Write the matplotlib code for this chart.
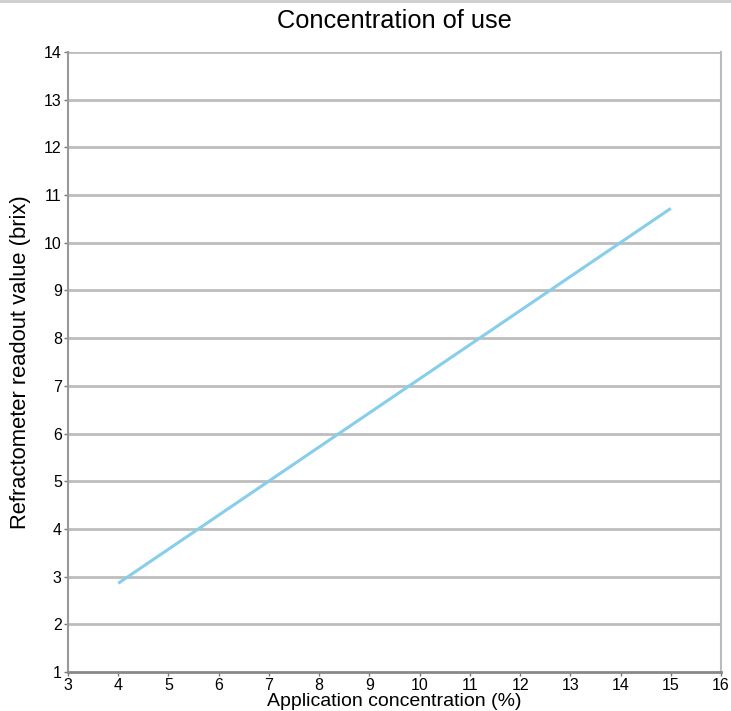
import matplotlib
matplotlib.use("Agg")
import matplotlib.pyplot as plt
from matplotlib.lines import Line2D

x_conc = [4, 15]
y_brix = [2.86, 10.72]
x_ticks = list(range(3, 17))
y_ticks = list(range(1, 15))

plt.rcParams['font.family'] = ['Liberation Sans', 'DejaVu Sans']

fig = plt.figure(figsize=(7.31, 7.11), dpi=100)
ax = fig.add_axes([68/731, 1-672/711, (721-68)/731, (672-52)/711])

for v in y_ticks[1:]:
    ax.axhline(v, color='#bdbdbd', lw=2.0, zorder=1)

ax.plot(x_conc, y_brix, color='#87ceeb', lw=2.2, zorder=3, solid_capstyle='butt')

ax.set_xlim(3, 16)
ax.set_ylim(1, 14)
ax.set_xticks(x_ticks)
ax.set_yticks(y_ticks)
ax.tick_params(axis='both', labelsize=11.5, colors='#777777', labelcolor='black', length=3, width=1, pad=1.5)
ax.tick_params(axis='x', pad=1)

ax.spines['top'].set_visible(False)
ax.spines['left'].set_color('#999999')
ax.spines['left'].set_linewidth(1.5)
ax.spines['right'].set_color('#bbbbbb')
ax.spines['right'].set_linewidth(1.5)
ax.spines['bottom'].set_color('#888888')
ax.spines['bottom'].set_linewidth(2)

ax.set_title('Concentration of use', fontsize=18.3, pad=17)
ax.set_xlabel('Application concentration (%)', fontsize=14, labelpad=0)
ax.set_ylabel('Refractometer readout value (brix)', fontsize=15.8, labelpad=9)

fig.add_artist(Line2D([0, 1], [1-1/711, 1-1/711], transform=fig.transFigure, color='#cccccc', lw=2))

fig.savefig('out.png', dpi=100)
